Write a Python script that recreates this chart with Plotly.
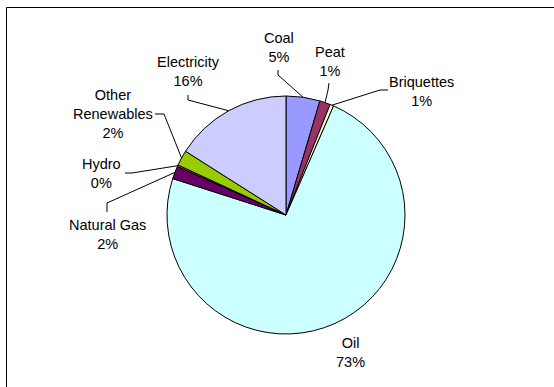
import math
import plotly.graph_objects as go

# ---- data ----
labels = ["Coal", "Peat", "Briquettes", "Oil", "Natural Gas", "Hydro", "Other Renewables", "Electricity"]
values = [4.6, 1.45, 0.5, 73.4, 1.75, 0.2, 2.1, 16.0]
label_text = ["Coal", "Peat", "Briquettes", "Oil", "Natural Gas", "Hydro", "Other<br>Renewables", "Electricity"]

# ---- style ----
colors = ["#9999FF", "#993366", "#FFFFCC", "#CCFFFF", "#660066", "#FF8080", "#99CC00", "#CCCCFF"]
W, H = 554, 387
CX, CY, R = 286, 215, 119
# label text centres (px) and leader-line start / elbow points (px)
label_pos = [(279, 47), (330, 62), (421, 91), (350, 352), (107, 234), (101, 173), (113, 114), (188, 71)]
leader = [
    [(278, 70), (278, 75)],
    [(329, 83), (328, 90)],
    [(388, 90), (380, 90)],
    None,
    [(107, 212), (107, 203)],
    [(125, 173), (132, 173)],
    [(155, 114), (164, 114)],
    [(188, 95), (188, 100)],
]
FONT = dict(family="Liberation Sans, Arial, sans-serif", size=14.5, color="#000000")


def px(x, y):
    return x / W, 1 - y / H


fig = go.Figure(go.Pie(
    labels=labels, values=values, sort=False, direction="clockwise", rotation=0,
    marker=dict(colors=colors, line=dict(color="#000000", width=1)),
    textinfo="none", hoverinfo="label+percent", showlegend=False,
    domain=dict(x=[(CX - R) / W, (CX + R) / W], y=[1 - (CY + R) / H, 1 - (CY - R) / H]),
))

total = sum(values)
cum = 0.0
shapes = []
annotations = []
for i, v in enumerate(values):
    mid = (cum + v / 2) / total * 2 * math.pi
    cum += v
    pct = int(v / total * 100 + 0.5)
    tx, ty = px(*label_pos[i])
    annotations.append(dict(x=tx, y=ty, xref="paper", yref="paper", text=f"{label_text[i]}<br>{pct}%",
                            showarrow=False, xanchor="center", yanchor="middle", font=FONT, align="center"))
    if leader[i] is not None:
        ex = CX + R * math.sin(mid)
        ey = CY - R * math.cos(mid)
        pts = leader[i] + [(ex, ey)]
        path = "M " + " L ".join(f"{a / W},{1 - b / H}" for a, b in pts)
        shapes.append(dict(type="path", path=path, xref="paper", yref="paper",
                           line=dict(color="#000000", width=1)))

# outer frame (clipped on right and bottom)
shapes.append(dict(type="rect", xref="paper", yref="paper", x0=6.5 / W, x1=1.02, y0=-0.02, y1=1 - 7.5 / H,
                   line=dict(color="#000000", width=1), fillcolor="rgba(0,0,0,0)"))

fig.update_layout(width=W, height=H, margin=dict(l=0, r=0, t=0, b=0),
                  paper_bgcolor="#FFFFFF", plot_bgcolor="#FFFFFF",
                  shapes=shapes, annotations=annotations)
fig.write_html("out.html")
